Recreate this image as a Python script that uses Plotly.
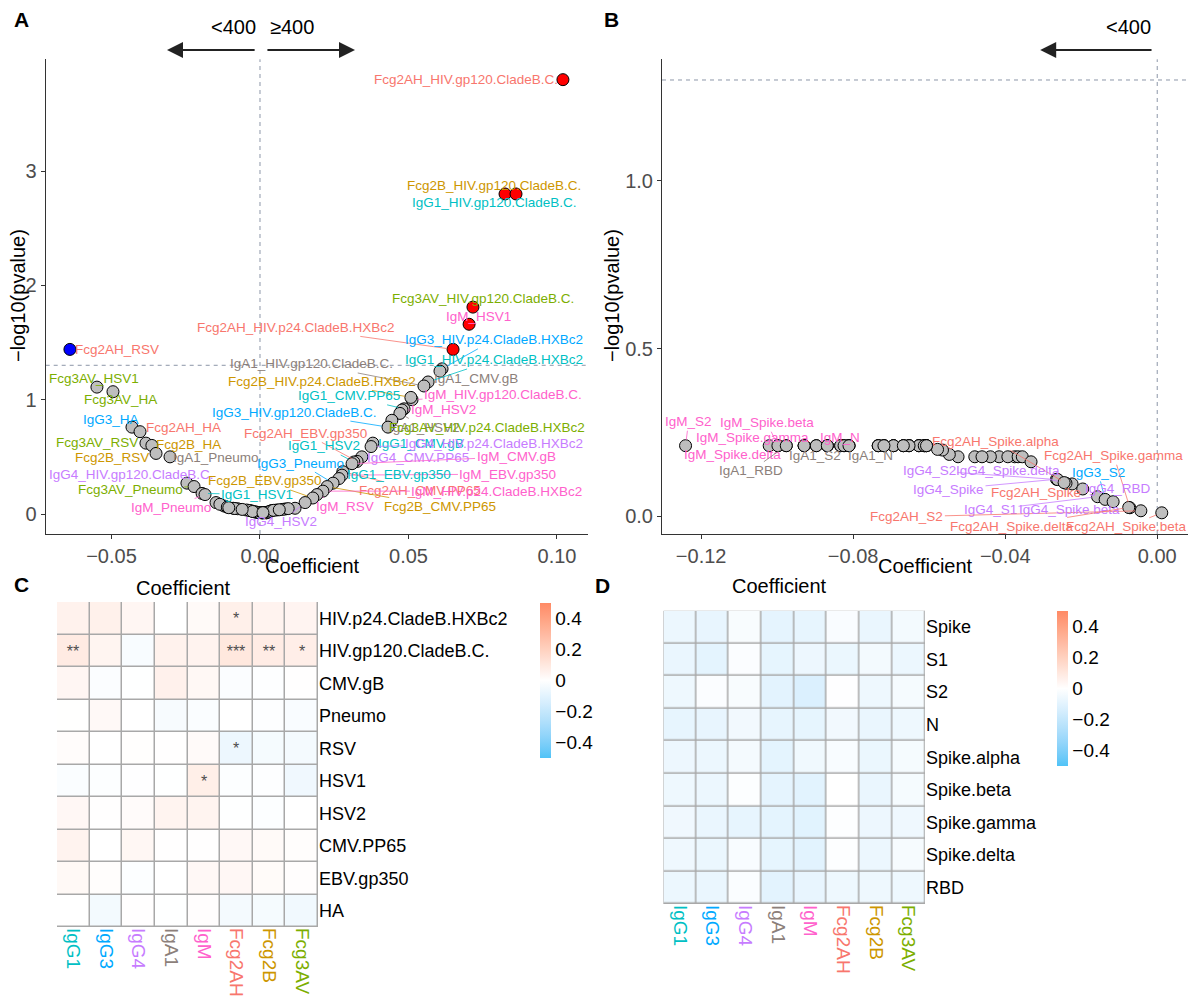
import math
import plotly.graph_objects as go

FONT = "Liberation Sans, Arial, Helvetica, sans-serif"
W, H = 1188, 1003

# ---------------- data ----------------
isotypes = ["IgG1", "IgG3", "IgG4", "IgA1", "IgM", "Fcg2AH", "Fcg2B", "Fcg3AV"]
iso_colors = ["#00BFC4", "#00A9FF", "#C77CFF", "#8C7F7A", "#FF61CC", "#F8766D", "#CD9600", "#7CAE00"]
antigens_c = ["HIV.p24.CladeB.HXBc2", "HIV.gp120.CladeB.C.", "CMV.gB", "Pneumo", "RSV",
              "HSV1", "HSV2", "CMV.PP65", "EBV.gp350", "HA"]
antigens_d = ["Spike", "S1", "S2", "N", "Spike.alpha", "Spike.beta", "Spike.gamma", "Spike.delta", "RBD"]

# Panel A (feature, coefficient, -log10 p)
a_feature = [
    "Fcg2AH_HIV.gp120.CladeB.C.", "Fcg2B_HIV.gp120.CladeB.C.", "IgG1_HIV.gp120.CladeB.C.",
    "Fcg3AV_HIV.gp120.CladeB.C.", "IgM_HSV1", "Fcg2AH_HIV.p24.CladeB.HXBc2",
    "IgG3_HIV.p24.CladeB.HXBc2", "IgA1_CMV.gB", "IgG1_HIV.p24.CladeB.HXBc2",
    "IgA1_HIV.gp120.CladeB.C.", "IgM_HIV.gp120.CladeB.C.", "Fcg2B_HIV.p24.CladeB.HXBc2",
    "IgG1_CMV.PP65", "IgM_HSV2", "IgA1_HSV2", "Fcg3AV_HIV.p24.CladeB.HXBc2",
    "IgG3_HIV.gp120.CladeB.C.", "IgG1_CMV.gB", "IgG4_HIV.p24.CladeB.HXBc2", "IgG4_CMV.PP65",
    "Fcg2AH_EBV.gp350", "IgG1_HSV2", "IgM_CMV.gB", "Fcg2AH_CMV.PP65", "IgM_EBV.gp350",
    "IgG1_EBV.gp350", "IgG3_Pneumo", "Fcg2B_CMV.PP65", "IgM_HIV.p24.CladeB.HXBc2", "IgM_RSV",
    "Fcg2B_EBV.gp350", "IgG4_HSV2",
    "Fcg2AH_RSV", "Fcg3AV_HSV1", "Fcg3AV_HA", "IgG3_HA", "Fcg2AH_HA", "Fcg3AV_RSV", "Fcg2B_HA",
    "Fcg2B_RSV", "IgA1_Pneumo", "IgG4_HIV.gp120.CladeB.C.", "Fcg3AV_Pneumo", "IgG1_HSV1", "IgM_Pneumo",
    "IgG1_Pneumo", "IgG1_RSV", "IgG1_HA", "IgG3_CMV.gB", "IgG3_RSV", "IgG3_HSV1", "IgG3_HSV2",
    "IgG3_CMV.PP65", "IgG3_EBV.gp350", "IgG4_CMV.gB", "IgG4_Pneumo", "IgG4_RSV", "IgG4_HSV1",
    "IgG4_EBV.gp350", "IgG4_HA", "IgA1_HIV.p24.CladeB.HXBc2", "IgA1_RSV", "IgA1_HSV1",
    "IgA1_CMV.PP65", "IgA1_EBV.gp350", "IgA1_HA", "IgM_CMV.PP65", "IgM_HA", "Fcg2AH_CMV.gB",
    "Fcg2AH_Pneumo", "Fcg2AH_HSV1", "Fcg2AH_HSV2", "Fcg2B_CMV.gB", "Fcg2B_Pneumo", "Fcg2B_HSV1",
    "Fcg2B_HSV2", "Fcg3AV_CMV.gB", "Fcg3AV_HSV2", "Fcg3AV_CMV.PP65", "Fcg3AV_EBV.gp350",
]
a_coef = [
    0.1020, 0.0825, 0.0862, 0.0717, 0.0704, 0.0650, 0.0613, 0.0606, 0.0566, 0.0552,
    0.0512, 0.0508, 0.0485, 0.0478, 0.0471, 0.0444, 0.0431, 0.0380, 0.0374, 0.0343,
    0.0327, 0.0316, 0.0310, 0.0279, 0.0276, 0.0266, 0.0246, 0.0226, 0.0212, 0.0192,
    0.0178, 0.0152,
    -0.0640, -0.0549, -0.0495, -0.0431, -0.0404, -0.0384, -0.0364, -0.0350, -0.0303,
    -0.0246, -0.0222, -0.0195, -0.0185,
    0.0020, 0.0118, -0.0010, -0.0148, 0.0005, -0.0121, 0.0022, -0.0016, 0.0085, -0.0030,
    0.0010, 0.0056, -0.0045, -0.0090, 0.0030, -0.0005, 0.0022, -0.0020, 0.0040, 0.0015,
    -0.0035, 0.0035, 0.0075, -0.0135, 0.0009, -0.0110, -0.0025, -0.0075, -0.0085, -0.0060,
    -0.0105, 0.0045, 0.0010, 0.0095, 0.0065,
]
a_nlp = [
    3.80, 2.80, 2.80, 1.81, 1.66, 1.44, 1.27, 1.25, 1.155, 1.12,
    1.00, 1.02, 0.92, 0.91, 0.88, 0.82, 0.76, 0.62, 0.59, 0.50,
    0.46, 0.455, 0.44, 0.37, 0.34, 0.31, 0.27, 0.24, 0.20, 0.17,
    0.14, 0.10,
    1.44, 1.11, 1.07, 0.76, 0.72, 0.62, 0.60, 0.53, 0.50,
    0.27, 0.24, 0.18, 0.17,
    0.012, 0.050, 0.015, 0.100, 0.010, 0.070, 0.012, 0.018, 0.044, 0.028,
    0.011, 0.035, 0.035, 0.050, 0.020, 0.012, 0.010, 0.020, 0.030, 0.011,
    0.030, 0.025, 0.040, 0.085, 0.010, 0.060, 0.022, 0.046, 0.048, 0.040,
    0.055, 0.032, 0.012, 0.047, 0.037,
]

# Panel B (rows = antigens_d, columns = isotypes)
b_coef = [
    [-0.0653, -0.0811, -0.0265, -0.0897, -0.0833, -0.0224, -0.0719, -0.0416],
    [-0.0734, -0.0929, -0.0157, -0.0868, -0.0627, -0.0694, -0.0439, -0.0668],
    [-0.0613, -0.0137, -0.0262, -0.0976, -0.1241, -0.0043, -0.0607, -0.0375],
    [-0.0824, -0.0811, -0.0480, -0.0833, -0.0868, -0.0461, -0.0734, -0.0613],
    [-0.0627, -0.0653, -0.0393, -0.0929, -0.0524, -0.0240, -0.0694, -0.0366],
    [-0.0607, -0.0668, -0.0116, -0.0897, -0.0998, 0.0012, -0.0719, -0.0355],
    [-0.0547, -0.0734, -0.0824, -0.0929, -0.1021, -0.0072, -0.0627, -0.0565],
    [-0.0578, -0.0694, -0.0245, -0.0868, -0.0998, -0.0075, -0.0653, -0.0332],
    [-0.0668, -0.0719, -0.0196, -0.0976, -0.0811, -0.0610, -0.0613, -0.0607],
]
b_nlp = [
    [0.211, 0.211, 0.111, 0.211, 0.211, 0.097, 0.211, 0.178],
    [0.211, 0.211, 0.059, 0.211, 0.211, 0.211, 0.178, 0.211],
    [0.211, 0.051, 0.110, 0.211, 0.211, 0.017, 0.211, 0.178],
    [0.211, 0.211, 0.178, 0.211, 0.211, 0.178, 0.211, 0.211],
    [0.211, 0.211, 0.178, 0.211, 0.178, 0.099, 0.211, 0.178],
    [0.211, 0.211, 0.044, 0.211, 0.211, 0.011, 0.211, 0.178],
    [0.185, 0.211, 0.211, 0.211, 0.211, 0.026, 0.211, 0.198],
    [0.200, 0.211, 0.101, 0.211, 0.211, 0.027, 0.211, 0.163],
    [0.211, 0.211, 0.082, 0.211, 0.211, 0.211, 0.211, 0.211],
]

# label placement (pixel offsets label-centre minus point, draw segment)
A_LABELS = {
    "Fcg2AH_HIV.gp120.CladeB.C.": (-97, 0, False), "Fcg2B_HIV.gp120.CladeB.C.": (-11, -8, False),
    "IgG1_HIV.gp120.CladeB.C.": (-22, 9, False), "Fcg3AV_HIV.gp120.CladeB.C.": (10, -9, False),
    "IgM_HSV1": (9, -8, False), "Fcg2AH_HIV.p24.CladeB.HXBc2": (-157, -22, True),
    "IgG3_HIV.p24.CladeB.HXBc2": (52, -29, True), "IgA1_CMV.gB": (36, 7, False),
    "IgG1_HIV.p24.CladeB.HXBc2": (66, -22, True), "IgA1_HIV.gp120.CladeB.C.": (-112, -22, True),
    "IgM_HIV.gp120.CladeB.C.": (91, -5, True), "Fcg2B_HIV.p24.CladeB.HXBc2": (-89, -16, True),
    "IgG1_CMV.PP65": (-55, -13, True), "IgM_HSV2": (42, 0, True), "IgA1_HSV2": (25, 14, True),
    "Fcg3AV_HIV.p24.CladeB.HXBc2": (95, 7, True), "IgG3_HIV.gp120.CladeB.C.": (-94, -15, True),
    "IgG1_CMV.gB": (48, 0, False), "IgG4_HIV.p24.CladeB.HXBc2": (123, -3, True),
    "IgG4_CMV.PP65": (56, 1, False), "Fcg2AH_EBV.gp350": (-52, -28, True),
    "IgG1_HSV2": (-30, -16, True), "IgM_CMV.gB": (164, -7, True), "Fcg2AH_CMV.PP65": (77, 19, True),
    "IgM_EBV.gp350": (166, -1, True), "IgG1_EBV.gp350": (60, -4, True), "IgG3_Pneumo": (-33, -20, True),
    "Fcg2B_CMV.PP65": (113, 20, True), "IgM_HIV.p24.CladeB.HXBc2": (174, 0, True),
    "IgM_RSV": (28, 12, True), "Fcg2B_EBV.gp350": (-48, -17, True), "IgG4_HSV2": (-24, 19, True),
    "Fcg2AH_RSV": (47, 0, False), "Fcg3AV_HSV1": (-3, -9, False), "Fcg3AV_HA": (8, 8, False),
    "IgG3_HA": (-21, -8, False), "Fcg2AH_HA": (43, -4, False), "Fcg3AV_RSV": (-49, -1, False),
    "Fcg2B_HA": (37, -1, False), "Fcg2B_RSV": (-44, 4, False), "IgA1_Pneumo": (46, 1, False),
    "IgG4_HIV.gp120.CladeB.C.": (-55, -9, False), "Fcg3AV_Pneumo": (-64, 3, True),
    "IgG1_HSV1": (55, 1, True), "IgM_Pneumo": (-34, 13, True),
}
B_LABELS = {
    "IgM_S2": (3, -24, True), "IgM_Spike.beta": (-11, -23, True), "IgM_Spike.gamma": (-17, -8, False),
    "IgM_N": (13, -8, False), "IgM_Spike.delta": (-45, 9, False), "IgA1_S2": (29, 10, False),
    "IgA1_N": (30, 10, False), "IgA1_RBD": (-35, 25, True), "Fcg2AH_Spike.alpha": (-71, -42, True),
    "Fcg2AH_Spike.gamma": (-16, -52, True), "IgG3_S2": (-7, -27, True), "IgG4_RBD": (35, 0, False),
    "Fcg2AH_Spike": (-36, 9, False), "IgG4_S2": (-128, -9, True), "IgG4_Spike.delta": (-56, -12, True),
    "IgG4_Spike": (-108, 10, True), "IgG4_S1": (-107, 13, True), "IgG4_Spike.beta": (-44, 8, False),
    "Fcg2AH_S2": (-234, 6, True), "Fcg2AH_Spike.delta": (-117, 19, True),
    "Fcg2AH_Spike.beta": (-35, 14, True),
}

# ---------------- helpers ----------------
thr = -math.log10(0.05)
col_of = dict(zip(isotypes, iso_colors))


def px_x(p):
    return p / W


def px_y(p):
    return 1 - p / H


def hex2rgb(h):
    return tuple(int(h[i:i + 2], 16) for i in (1, 3, 5))


def rgb2lab(rgb):
    def lin(c):
        c = c / 255
        return c / 12.92 if c <= 0.04045 else ((c + 0.055) / 1.055) ** 2.4
    r, g, b = [lin(c) for c in rgb]
    X = 0.4124564 * r + 0.3575761 * g + 0.1804375 * b
    Y = 0.2126729 * r + 0.7151522 * g + 0.0721750 * b
    Z = 0.0193339 * r + 0.1191920 * g + 0.9503041 * b

    def f(t):
        return t ** (1 / 3) if t > 216 / 24389 else (24389 / 27 * t + 16) / 116
    fx, fy, fz = f(X / 0.95047), f(Y), f(Z / 1.08883)
    return (116 * fy - 16, 500 * (fx - fy), 200 * (fy - fz))


def lab2rgb(lab):
    L, a, b = lab
    fy = (L + 16) / 116
    fx = fy + a / 500
    fz = fy - b / 200

    def finv(t):
        return t ** 3 if t ** 3 > 216 / 24389 else (116 * t - 16) / (24389 / 27)
    X, Y, Z = 0.95047 * finv(fx), finv(fy), 1.08883 * finv(fz)
    r = 3.2404542 * X - 1.5371385 * Y - 0.4985314 * Z
    g = -0.9692660 * X + 1.8760108 * Y + 0.0415560 * Z
    bb = 0.0556434 * X - 0.2040259 * Y + 1.0572252 * Z

    def gam(c):
        c = max(0.0, min(1.0, c))
        return 12.92 * c if c <= 0.0031308 else 1.055 * c ** (1 / 2.4) - 0.055
    return "rgb(%d,%d,%d)" % tuple(round(gam(c) * 255) for c in (r, g, bb))


lo, mid, hi = rgb2lab(hex2rgb("#4FC3F7")), rgb2lab(hex2rgb("#FFFFFF")), rgb2lab(hex2rgb("#FF8A65"))
colorscale = []
N = 20
for i in range(N + 1):
    t = i / N
    if t <= 0.5:
        u = t / 0.5
        lab = tuple(lo[k] + (mid[k] - lo[k]) * u for k in range(3))
    else:
        u = (t - 0.5) / 0.5
        lab = tuple(mid[k] + (hi[k] - mid[k]) * u for k in range(3))
    colorscale.append([t, lab2rgb(lab)])


def stars(nlp):
    p = 10 ** (-nlp)
    if p < 0.001:
        return "***"
    if p < 0.01:
        return "**"
    if p < 0.05:
        return "*"
    return ""


fig = go.Figure()
annotations = []
shapes = []

# ---------------- panel A ----------------
def add_points(xs, ys, xa, ya, fill):
    fig.add_trace(go.Scatter(x=xs, y=ys, mode="markers", xaxis=xa, yaxis=ya,
                             marker=dict(size=12, color=fill, line=dict(color="black", width=1)),
                             hoverinfo="skip", showlegend=False))


gx, gy, rx, ry, bx, by = [], [], [], [], [], []
for c, n in zip(a_coef, a_nlp):
    if n > thr and c > 0:
        rx.append(c); ry.append(n)
    elif n > thr and c < 0:
        bx.append(c); by.append(n)
    else:
        gx.append(c); gy.append(n)
add_points(gx, gy, "x", "y", "#BEBEBE")
add_points(rx, ry, "x", "y", "#FF0000")
add_points(bx, by, "x", "y", "#0000FF")


def add_label(name, x, y, xr, yr, spec):
    dx, dy, seg = spec
    iso = name.split("_", 1)[0]
    col = col_of[iso]
    annotations.append(dict(
        x=x, y=y, xref=xr, yref=yr, text=name, showarrow=True, ax=dx, ay=dy,
        arrowhead=0, arrowwidth=0.8 if seg else 0.1,
        arrowcolor=col if seg else "rgba(0,0,0,0)", standoff=6,
        font=dict(family=FONT, size=13.5, color=col)))


for name, c, n in zip(a_feature, a_coef, a_nlp):
    if name in A_LABELS:
        add_label(name, c, n, "x", "y", A_LABELS[name])

# ---------------- panel B ----------------
bxs, bys = [], []
for r, ant in enumerate(antigens_d):
    for k, iso in enumerate(isotypes):
        bxs.append(b_coef[r][k]); bys.append(b_nlp[r][k])
add_points(bxs, bys, "x2", "y2", "#BEBEBE")
for r, ant in enumerate(antigens_d):
    for k, iso in enumerate(isotypes):
        name = iso + "_" + ant
        if name in B_LABELS:
            add_label(name, b_coef[r][k], b_nlp[r][k], "x2", "y2", B_LABELS[name])

# reference lines
for xr, yr in (("x", "y"), ("x2", "y2")):
    shapes.append(dict(type="line", xref=xr, yref=yr + " domain", x0=0, x1=0, y0=0, y1=1,
                       line=dict(color="#8C96A8", width=1, dash="4px,4px"), layer="below"))
    shapes.append(dict(type="line", xref=xr + " domain", yref=yr, x0=0, x1=1, y0=thr, y1=thr,
                       line=dict(color="#8C96A8", width=1, dash="4px,4px"), layer="below"))

# direction arrows
arr_y = px_y(50)
txt_y = px_y(27)
for xr, tip, tail in (("x", -0.0313, -0.0013), ("x", 0.0320, 0.0020), ("x2", -0.0308, -0.0011)):
    annotations.append(dict(x=tip, y=arr_y, xref=xr, yref="paper", ax=tail, ay=0,
                            axref=xr, ayref="pixel", showarrow=True, text="",
                            arrowhead=2, arrowsize=1.6, arrowwidth=2, arrowcolor="#222222"))
for xr, xv, t in (("x", -0.0088, "<400"), ("x", 0.0108, "≥400"), ("x2", -0.0076, "<400")):
    annotations.append(dict(x=xv, y=txt_y, xref=xr, yref="paper", text=t, showarrow=False,
                            xanchor="center", yanchor="middle",
                            font=dict(family=FONT, size=20, color="black")))

# ---------------- heatmaps ----------------
coef_of = dict(zip(a_feature, a_coef))
nlp_of = dict(zip(a_feature, a_nlp))
zC = [[coef_of[iso + "_" + ant] for iso in isotypes] for ant in antigens_c]
tC = [[stars(nlp_of[iso + "_" + ant]) for iso in isotypes] for ant in antigens_c]
zD = b_coef
tD = [[stars(v) for v in row] for row in b_nlp]


def add_heat(z, txt, xa, ya, cbx, cby):
    fig.add_trace(go.Heatmap(
        z=z, x=list(range(len(isotypes))), y=list(range(len(z))), xaxis=xa, yaxis=ya,
        colorscale=colorscale, zmin=-0.5, zmax=0.5, xgap=1.5, ygap=1.5,
        text=txt, texttemplate="%{text}", textfont=dict(family=FONT, size=16, color="#4D4D4D"),
        hoverinfo="skip",
        colorbar=dict(x=cbx, xanchor="left", y=cby, yanchor="middle", len=155, lenmode="pixels",
                      thickness=11, thicknessmode="pixels", outlinewidth=0, xpad=0, ypad=0,
                      tickvals=[-0.4, -0.2, 0, 0.2, 0.4], ticktext=["−0.4", "−0.2", "0", "0.2", "0.4"],
                      ticks="", tickfont=dict(family=FONT, size=19, color="black"))))
    shapes.append(dict(type="rect", xref=xa, yref=ya, x0=-0.5, x1=len(isotypes) - 0.5,
                       y0=-0.5, y1=len(z) - 0.5, fillcolor="#A8A8A8",
                       line=dict(color="#A8A8A8", width=1), layer="below"))


add_heat(zC, tC, "x3", "y3", px_x(540), px_y(680))
add_heat(zD, tD, "x4", "y4", px_x(1057), px_y(688.5))

col_ticktext = ['<span style="color:%s">%s</span>' % (c, n) for n, c in zip(isotypes, iso_colors)]

# ---------------- layout ----------------
tickfont = dict(family=FONT, size=20, color="#4D4D4D")
common_ax = dict(showgrid=False, zeroline=False, showline=True, linecolor="#333333", linewidth=1,
                 ticks="outside", ticklen=4, tickcolor="#333333", tickwidth=1, tickfont=tickfont)
hm_x = dict(showgrid=False, zeroline=False, showline=False, ticks="", tickangle=90,
            tickvals=list(range(8)), ticktext=col_ticktext, range=[-0.5, 7.5],
            tickfont=dict(family=FONT, size=19))
hm_y = dict(showgrid=False, zeroline=False, showline=False, ticks="", side="right",
            tickfont=dict(family=FONT, size=18, color="black"))

fig.update_layout(
    width=W, height=H, margin=dict(l=0, r=0, t=0, b=0),
    paper_bgcolor="white", plot_bgcolor="white", showlegend=False,
    font=dict(family=FONT),
    xaxis=dict(common_ax, domain=[px_x(45.7), px_x(588)], range=[-0.07215, 0.11044], anchor="y",
               tickvals=[-0.05, 0, 0.05, 0.10], ticktext=["−0.05", "0.00", "0.05", "0.10"]),
    yaxis=dict(common_ax, domain=[px_y(534), px_y(59.3)], range=[-0.175, 3.978], anchor="x",
               tickvals=[0, 1, 2, 3]),
    xaxis2=dict(common_ax, domain=[px_x(662), 1.0], range=[-0.1303, 0.0081], anchor="y2",
                tickvals=[-0.12, -0.08, -0.04, 0], ticktext=["−0.12", "−0.08", "−0.04", "0.00"]),
    yaxis2=dict(common_ax, domain=[px_y(534), px_y(59.3)], range=[-0.0522, 1.3627], anchor="x2",
                tickvals=[0, 0.5, 1.0], ticktext=["0.0", "0.5", "1.0"]),
    xaxis3=dict(hm_x, domain=[px_x(57), px_x(318)], anchor="y3"),
    yaxis3=dict(hm_y, domain=[px_y(927), px_y(602)], anchor="x3", range=[9.5, -0.5],
                tickvals=list(range(10)), ticktext=antigens_c),
    xaxis4=dict(hm_x, domain=[px_x(663.5), px_x(925)], anchor="y4"),
    yaxis4=dict(hm_y, domain=[px_y(904), px_y(610.7)], anchor="x4", range=[8.5, -0.5],
                tickvals=list(range(9)), ticktext=antigens_d),
)

# titles and panel letters
def paper_text(x, y, t, size=20, bold=False, angle=0):
    annotations.append(dict(x=px_x(x), y=px_y(y), xref="paper", yref="paper", showarrow=False,
                            xanchor="center", yanchor="middle",
                            text=("<b>%s</b>" % t) if bold else t, textangle=angle,
                            font=dict(family=FONT, size=size, color="black")))


paper_text(312, 566, "Coefficient")
paper_text(925, 566, "Coefficient")
paper_text(18, 296, "−log10(pvalue)", angle=-90)
paper_text(612, 296, "−log10(pvalue)", angle=-90)
paper_text(183, 588, "Coefficient")
paper_text(779, 586, "Coefficient")
paper_text(21, 19, "A", 21, True)
paper_text(611, 19, "B", 21, True)
paper_text(21, 584, "C", 21, True)
paper_text(602, 585, "D", 21, True)

fig.update_layout(annotations=annotations, shapes=shapes)
fig.write_html("out.html", config={"displayModeBar": False},
               post_script="document.body.style.margin='0px';document.body.style.padding='0px';")
